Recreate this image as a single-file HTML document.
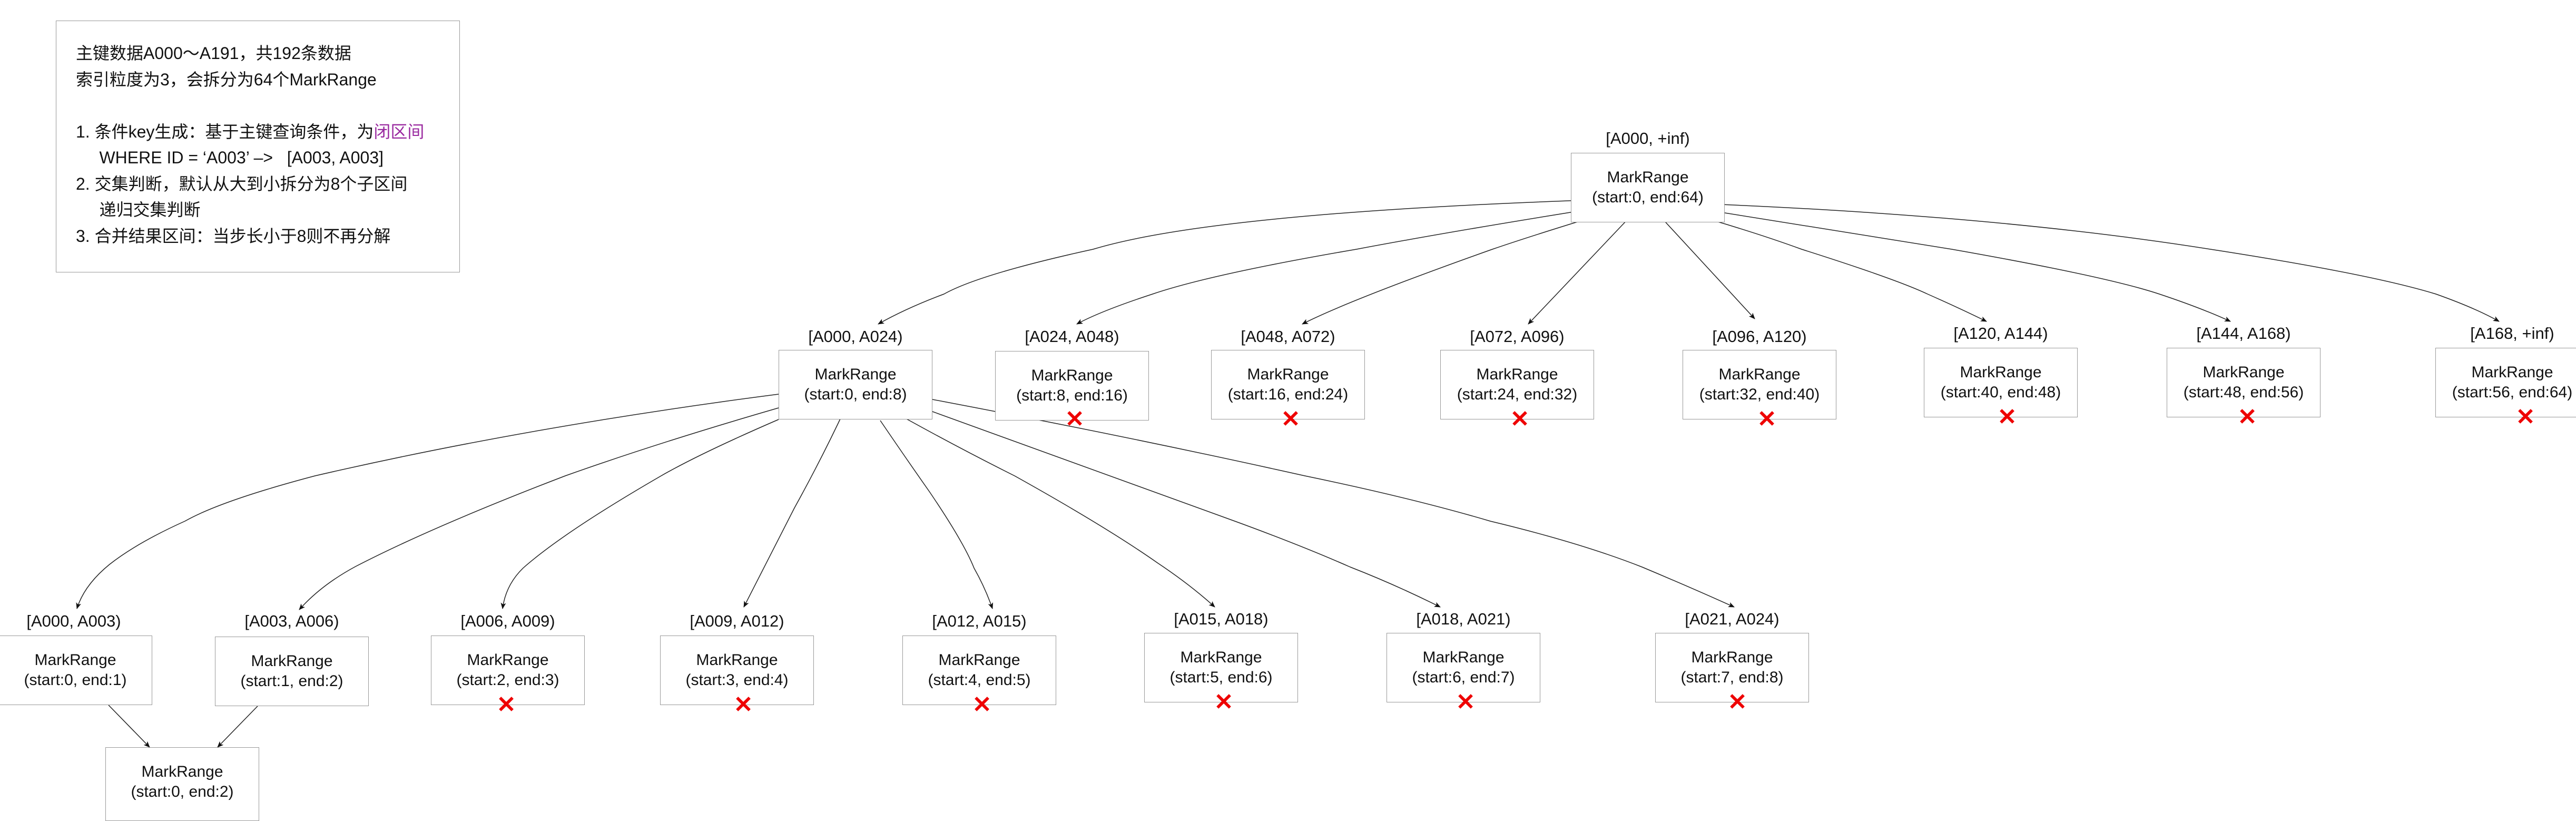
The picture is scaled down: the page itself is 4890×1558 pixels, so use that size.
<!DOCTYPE html>
<html><head><meta charset="utf-8">
<style>
html,body{margin:0;padding:0;background:#fff;}
body{width:4890px;height:1550px;position:relative;overflow:hidden;font-family:"Liberation Sans","Noto Sans CJK SC",sans-serif;color:#111;}
.b{position:absolute;width:292px;height:132px;border:1.5px solid #999;box-sizing:border-box;background:#fff;display:flex;flex-direction:column;align-items:center;justify-content:center;font-size:30px;line-height:38px;text-align:center;white-space:nowrap;}
.l{position:absolute;font-size:31px;line-height:36px;width:400px;text-align:center;white-space:nowrap;}
.x{position:absolute;color:#e00;font-size:44px;font-weight:bold;line-height:44px;width:40px;text-align:center;}
#note{position:absolute;left:106px;top:39px;width:767px;height:478px;border:1.5px solid #999;box-sizing:border-box;font-size:32px;line-height:49.5px;padding:37px 0 0 37px;white-space:nowrap;}
svg{position:absolute;left:0;top:0;}
</style></head><body>
<div id="note">主键数据A000～A191，共192条数据<br>索引粒度为3，会拆分为64个MarkRange<br><br>1. 条件key生成：基于主键查询条件，为<span style="color:#9a2aa0">闭区间</span><br>&nbsp;&nbsp;&nbsp;&nbsp;&nbsp;WHERE ID = ‘A003’ –&gt;&nbsp;&nbsp;&nbsp;[A003, A003]<br>2. 交集判断，默认从大到小拆分为8个子区间<br>&nbsp;&nbsp;&nbsp;&nbsp;&nbsp;递归交集判断<br>3. 合并结果区间：当步长小于8则不再分解</div>

<svg width="4890" height="1550" viewBox="0 0 4890 1550">
<defs><marker id="a" markerWidth="12" markerHeight="10" refX="11" refY="5" orient="auto" markerUnits="userSpaceOnUse"><path d="M0,0 L12,5 L0,10 L3,5 Z" fill="#111"/></marker></defs>
<g fill="none" stroke="#222" stroke-width="1.5" marker-end="url(#a)">
<path d="M3006,380 Q2300,405 2075,473 Q1860,520 1792,558 Q1720,585 1667,615"/>
<path d="M3006,399 Q2750,440 2575,473 Q2300,520 2188,558 Q2090,590 2044,615"/>
<path d="M3014,415 Q2900,450 2833,473 Q2560,570 2472,615"/>
<path d="M3090,416 L2901,615"/>
<path d="M3151,410 L3331,605"/>
<path d="M3203,404 Q3330,440 3420,473 Q3600,530 3659,558 Q3720,585 3771,610"/>
<path d="M3243,399 Q3500,440 3705,473 Q4000,525 4099,558 Q4180,585 4234,610"/>
<path d="M3243,387 Q3800,410 4196,473 Q4500,520 4624,558 Q4700,585 4744,610"/>
<path d="M1478,748 Q1000,810 598,903 Q420,950 351,989 Q260,1030 208,1071 Q160,1110 146,1155"/>
<path d="M1478,774 Q1250,840 1073,903 Q820,1000 675,1075 Q610,1110 568,1157"/>
<path d="M1478,796 Q1330,860 1255,903 Q1070,1010 993,1078 Q960,1110 954,1155"/>
<path d="M1604,776 Q1560,870 1508,964 L1412,1152"/>
<path d="M1671,798 Q1720,870 1765,934 Q1830,1030 1849,1078 Q1870,1115 1884,1155"/>
<path d="M1669,766 Q1800,840 1926,903 Q2100,1000 2197,1068 Q2260,1110 2306,1152"/>
<path d="M1770,781 Q2100,900 2344,989 Q2470,1035 2563,1076 Q2650,1110 2734,1152"/>
<path d="M1770,758 Q2150,830 2477,903 Q2680,945 2829,989 Q3000,1030 3117,1076 Q3210,1115 3292,1152"/>
<path d="M206,1338 L284,1418"/>
<path d="M489,1340 L413,1418"/>
</g></svg>

<div class="l" style="left:2928px;top:245px">[A000, +inf)</div>
<div class="b" style="left:2982px;top:290px;height:132px">MarkRange<br>(start:0, end:64)</div>

<div class="l" style="left:1424px;top:621px">[A000, A024)</div>
<div class="b" style="left:1478px;top:664px">MarkRange<br>(start:0, end:8)</div>
<div class="l" style="left:1835px;top:621px">[A024, A048)</div>
<div class="b" style="left:1889px;top:666px">MarkRange<br>(start:8, end:16)</div>
<div class="x" style="left:2020px;top:774px">✕</div>
<div class="l" style="left:2245px;top:621px">[A048, A072)</div>
<div class="b" style="left:2299px;top:664px">MarkRange<br>(start:16, end:24)</div>
<div class="x" style="left:2430px;top:774px">✕</div>
<div class="l" style="left:2680px;top:621px">[A072, A096)</div>
<div class="b" style="left:2734px;top:664px">MarkRange<br>(start:24, end:32)</div>
<div class="x" style="left:2865px;top:774px">✕</div>
<div class="l" style="left:3140px;top:621px">[A096, A120)</div>
<div class="b" style="left:3194px;top:664px">MarkRange<br>(start:32, end:40)</div>
<div class="x" style="left:3334px;top:774px">✕</div>
<div class="l" style="left:3598px;top:615px">[A120, A144)</div>
<div class="b" style="left:3652px;top:660px">MarkRange<br>(start:40, end:48)</div>
<div class="x" style="left:3790px;top:770px">✕</div>
<div class="l" style="left:4059px;top:615px">[A144, A168)</div>
<div class="b" style="left:4113px;top:660px">MarkRange<br>(start:48, end:56)</div>
<div class="x" style="left:4246px;top:770px">✕</div>
<div class="l" style="left:4569px;top:615px">[A168, +inf)</div>
<div class="b" style="left:4623px;top:660px">MarkRange<br>(start:56, end:64)</div>
<div class="x" style="left:4774px;top:770px">✕</div>

<div class="l" style="left:-60px;top:1161px">[A000, A003)</div>
<div class="b" style="left:-3px;top:1206px">MarkRange<br>(start:0, end:1)</div>
<div class="l" style="left:354px;top:1161px">[A003, A006)</div>
<div class="b" style="left:408px;top:1208px">MarkRange<br>(start:1, end:2)</div>
<div class="l" style="left:764px;top:1161px">[A006, A009)</div>
<div class="b" style="left:818px;top:1206px">MarkRange<br>(start:2, end:3)</div>
<div class="x" style="left:941px;top:1316px">✕</div>
<div class="l" style="left:1199px;top:1161px">[A009, A012)</div>
<div class="b" style="left:1253px;top:1206px">MarkRange<br>(start:3, end:4)</div>
<div class="x" style="left:1391px;top:1316px">✕</div>
<div class="l" style="left:1659px;top:1161px">[A012, A015)</div>
<div class="b" style="left:1713px;top:1206px">MarkRange<br>(start:4, end:5)</div>
<div class="x" style="left:1844px;top:1316px">✕</div>
<div class="l" style="left:2118px;top:1157px">[A015, A018)</div>
<div class="b" style="left:2172px;top:1201px">MarkRange<br>(start:5, end:6)</div>
<div class="x" style="left:2303px;top:1311px">✕</div>
<div class="l" style="left:2578px;top:1157px">[A018, A021)</div>
<div class="b" style="left:2632px;top:1201px">MarkRange<br>(start:6, end:7)</div>
<div class="x" style="left:2762px;top:1311px">✕</div>
<div class="l" style="left:3088px;top:1157px">[A021, A024)</div>
<div class="b" style="left:3142px;top:1201px">MarkRange<br>(start:7, end:8)</div>
<div class="x" style="left:3278px;top:1311px">✕</div>

<div class="b" style="left:200px;top:1418px;height:140px;padding-bottom:8px">MarkRange<br>(start:0, end:2)</div>
</body></html>
